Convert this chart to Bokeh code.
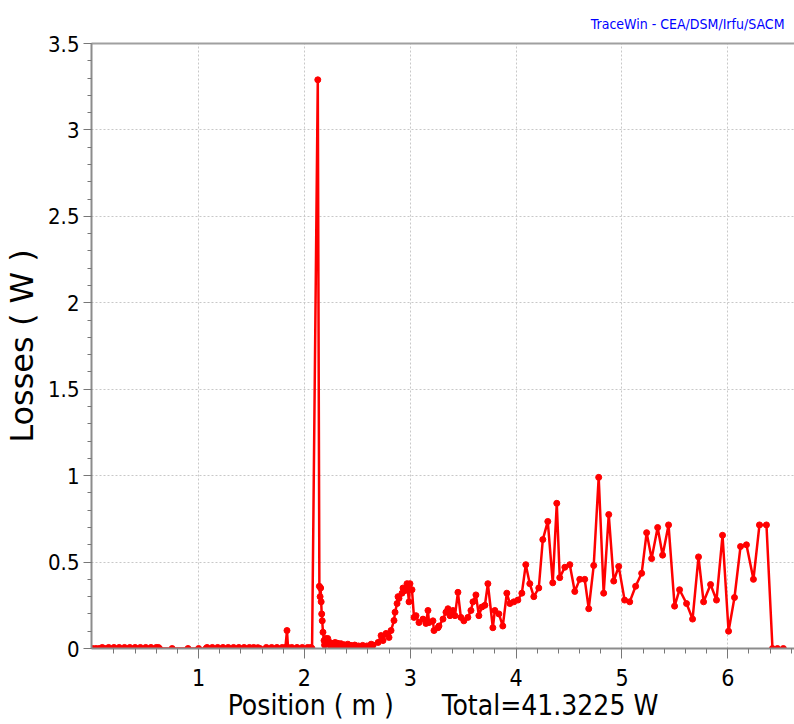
from bokeh.plotting import figure
from bokeh.models import Range1d, FixedTicker, LinearAxis
from bokeh.embed import file_html
from bokeh.resources import INLINE

# Beam losses along the linac (position in m, power lost in W)

# upstream section: almost loss-free, one small hot spot near 1.83 m
pos_low = [0.0, 0.03, 0.06, 0.09, 0.12, 0.15, 0.20, 0.25, 0.30, 0.35, 0.40,
           0.45, 0.50, 0.55, 0.60, 0.62, 0.63, 0.75, 0.90, 1.00, 1.07, 1.08,
           1.13, 1.18, 1.23, 1.28, 1.33, 1.38, 1.43, 1.48, 1.52, 1.54, 1.56,
           1.58, 1.64, 1.69, 1.74, 1.79, 1.82, 1.835, 1.845, 1.88, 1.93,
           1.98, 2.03, 2.06, 2.072]
loss_low = [0.0, 0.0, 0.0, 0.006, 0.0, 0.006, 0.006, 0.006, 0.006, 0.006,
            0.006, 0.006, 0.006, 0.006, 0.006, 0.006, 0.0, 0.0, 0.0, 0.0,
            0.0, 0.006, 0.006, 0.006, 0.006, 0.006, 0.006, 0.006, 0.006,
            0.006, 0.006, 0.0, 0.005, 0.0, 0.006, 0.006, 0.006, 0.006,
            0.006, 0.104, 0.006, 0.006, 0.006, 0.006, 0.006, 0.006, 0.0]

# main loss peak
pos_peak = [2.126]
loss_peak = [3.29]

# decay after the peak and low-loss stretch
pos_decay = [2.141, 2.148, 2.153, 2.158, 2.163, 2.168, 2.175, 2.185, 2.19,
             2.20, 2.21, 2.22, 2.23, 2.24, 2.25, 2.26, 2.275, 2.29, 2.30,
             2.315, 2.33, 2.345, 2.36, 2.375, 2.39, 2.41, 2.425, 2.44, 2.46,
             2.475, 2.49, 2.51, 2.53, 2.55, 2.57, 2.59, 2.61, 2.63, 2.649]
loss_decay = [0.36, 0.30, 0.35, 0.27, 0.20, 0.16, 0.094, 0.046, 0.02, 0.058,
              0.03, 0.058, 0.023, 0.035, 0.015, 0.03, 0.02, 0.035, 0.012,
              0.03, 0.018, 0.028, 0.01, 0.022, 0.012, 0.025, 0.008, 0.018,
              0.01, 0.02, 0.006, 0.015, 0.01, 0.018, 0.006, 0.015, 0.01,
              0.025, 0.02]

# rising losses downstream
pos_rise = [2.696, 2.724, 2.742, 2.771, 2.799, 2.818, 2.846, 2.856, 2.875,
            2.884, 2.893, 2.922, 2.931, 2.950, 2.969, 2.988, 2.997, 3.016,
            3.035, 3.054, 3.082, 3.120, 3.148, 3.167, 3.177, 3.214, 3.224,
            3.261, 3.271, 3.309, 3.337, 3.356, 3.375, 3.403, 3.422, 3.450,
            3.478, 3.506, 3.544, 3.573, 3.592, 3.620, 3.648, 3.676, 3.705,
            3.733, 3.780, 3.799, 3.837, 3.874, 3.912, 3.941, 3.978, 4.016]
loss_rise = [0.035, 0.075, 0.046, 0.087, 0.064, 0.104, 0.162, 0.21, 0.26,
             0.30, 0.29, 0.32, 0.35, 0.335, 0.375, 0.27, 0.375, 0.34, 0.18,
             0.19, 0.15, 0.17, 0.145, 0.22, 0.15, 0.16, 0.104, 0.12, 0.13,
             0.17, 0.21, 0.23, 0.19, 0.22, 0.19, 0.325, 0.18, 0.16, 0.18,
             0.22, 0.27, 0.31, 0.19, 0.24, 0.25, 0.375, 0.12, 0.22, 0.20,
             0.13, 0.32, 0.26, 0.27, 0.28]

# high-energy end
pos_tail = [4.054, 4.091, 4.129, 4.167, 4.214, 4.252, 4.299, 4.346, 4.384,
            4.412, 4.460, 4.507, 4.554, 4.601, 4.648, 4.686, 4.733, 4.780,
            4.827, 4.875, 4.922, 4.969, 5.025, 5.073, 5.129, 5.186, 5.233,
            5.280, 5.337, 5.384, 5.440, 5.497, 5.544, 5.610, 5.667, 5.723,
            5.771, 5.837, 5.893, 5.950, 6.007, 6.063, 6.120, 6.176, 6.242,
            6.299, 6.365, 6.422, 6.469, 6.525]
loss_tail = [0.32, 0.485, 0.375, 0.30, 0.35, 0.63, 0.735, 0.38, 0.84, 0.41,
             0.47, 0.485, 0.33, 0.40, 0.40, 0.23, 0.48, 0.99, 0.32, 0.775,
             0.39, 0.475, 0.28, 0.27, 0.36, 0.435, 0.67, 0.52, 0.70, 0.54,
             0.715, 0.245, 0.34, 0.26, 0.17, 0.53, 0.27, 0.37, 0.28, 0.655,
             0.10, 0.295, 0.59, 0.60, 0.40, 0.715, 0.715, 0.0, 0.0, 0.0]

position = pos_low + pos_peak + pos_decay + pos_rise + pos_tail
losses = loss_low + loss_peak + loss_decay + loss_rise + loss_tail

x_ticks = [1, 2, 3, 4, 5, 6]
x_minor = [0.2, 0.4, 0.6, 0.8, 1.2, 1.4, 1.6, 1.8, 2.2, 2.4, 2.6, 2.8,
           3.2, 3.4, 3.6, 3.8, 4.2, 4.4, 4.6, 4.8, 5.2, 5.4, 5.6, 5.8,
           6.2, 6.4, 6.6]
y_ticks = [0, 0.5, 1, 1.5, 2, 2.5, 3, 3.5]
y_labels = ["0", "0.5", "1", "1.5", "2", "2.5", "3", "3.5"]
y_minor = [round(0.1 * i, 1) for i in range(36)]
total_loss = "41.3225"

cond = "DejaVu Sans Condensed"

p = figure(width=794, height=724, output_backend="svg", toolbar_location=None,
           x_range=Range1d(-0.012, 6.63), y_range=Range1d(0, 3.5),
           min_border_left=90, min_border_right=0, min_border_top=43,
           min_border_bottom=76, background_fill_color="white",
           border_fill_color="white")
p.outline_line_color = None

xa = p.below[0]
ya = p.left[0]

p.title.text = "TraceWin - CEA/DSM/Irfu/SACM"
p.title.align = "right"
p.title.text_color = "#0000ff"
p.title.text_font = cond
p.title.text_font_size = "14px"
p.title.text_font_style = "normal"
p.title.offset = 10
p.title.standoff = 24

# plain top border of the frame
top = LinearAxis(ticker=FixedTicker(ticks=[]), major_label_text_font_size="0px",
                 axis_line_color="#a0a0a0", axis_line_width=2,
                 major_tick_line_color=None, minor_tick_line_color=None,
                 major_tick_out=0, minor_tick_out=0, major_label_standoff=0)
p.add_layout(top, "above")

xa.ticker = FixedTicker(ticks=x_ticks, minor_ticks=x_minor)
xa.axis_label = "Position ( m )" + "\u00a0" * 6 + "Total=" + total_loss + " W"
xa.axis_label_text_font = cond
xa.axis_label_text_font_size = "28px"
xa.axis_label_text_font_style = "normal"
xa.axis_label_text_color = "black"
xa.axis_label_standoff = 0
xa.major_label_text_font = cond
xa.major_label_text_font_size = "23px"
xa.major_label_text_color = "black"
xa.major_label_standoff = 10
xa.axis_line_color = "#8c8c8c"
xa.axis_line_width = 2
xa.major_tick_line_color = "#777777"
xa.minor_tick_line_color = "#777777"
xa.major_tick_out = 10
xa.major_tick_in = 0
xa.minor_tick_out = 5
xa.minor_tick_in = 0

ya.ticker = FixedTicker(ticks=y_ticks, minor_ticks=y_minor)
ya.major_label_overrides = {t: s for t, s in zip(y_ticks, y_labels)}
ya.axis_label = "Losses ( W )"
ya.axis_label_text_font = "DejaVu Sans"
ya.axis_label_text_font_size = "32px"
ya.axis_label_text_font_style = "normal"
ya.axis_label_text_color = "black"
ya.axis_label_standoff = 4
ya.major_label_text_font = cond
ya.major_label_text_font_size = "22px"
ya.major_label_text_color = "black"
ya.major_label_standoff = 4
ya.axis_line_color = "#8c8c8c"
ya.axis_line_width = 2
ya.major_tick_line_color = "#777777"
ya.minor_tick_line_color = "#777777"
ya.major_tick_out = 8
ya.major_tick_in = 0
ya.minor_tick_out = 4
ya.minor_tick_in = 0

for g in (p.xgrid[0], p.ygrid[0]):
    g.grid_line_color = "#c8c8c8"
    g.grid_line_dash = "2 2"
    g.grid_line_width = 1
p.xgrid[0].ticker = FixedTicker(ticks=x_ticks)
p.ygrid[0].ticker = FixedTicker(ticks=y_ticks)

p.line(position, losses, line_color="#ff0000", line_width=2.5)
p.scatter(position, losses, size=6, fill_color="#ff0000", line_color="#ff0000")

open("out.html", "w").write(file_html(p, INLINE))
